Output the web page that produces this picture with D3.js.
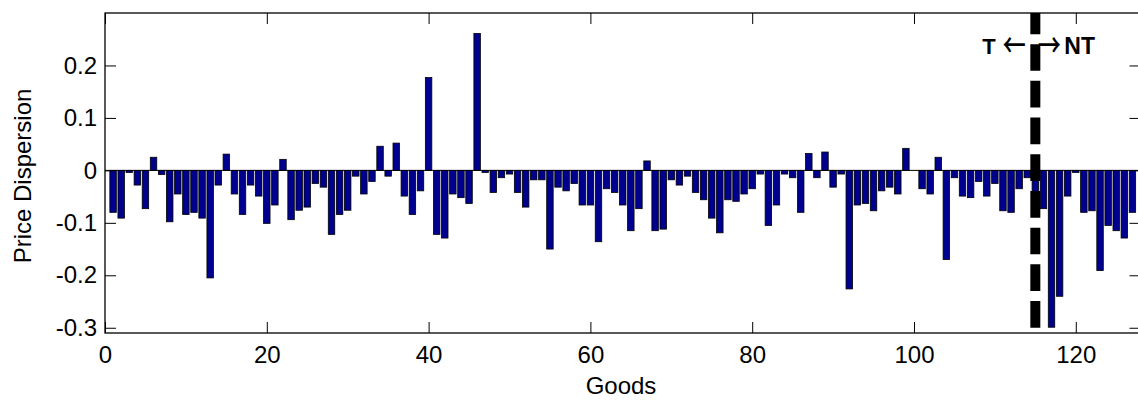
<!DOCTYPE html>
<html>
<head>
<meta charset="utf-8">
<script src="https://cdn.jsdelivr.net/npm/d3@7"></script>
<style>
  html, body { margin: 0; padding: 0; background: #fff; }
</style>
</head>
<body>
<svg id="chart" width="1138" height="400" font-family='"Liberation Sans", Arial, Helvetica, sans-serif'></svg>
<script>
// ---- data ----
const values = [
  -0.080, -0.091, -0.004, -0.028, -0.073,  0.025, -0.008, -0.098, -0.045, -0.084,
  -0.080, -0.091, -0.205, -0.028,  0.031, -0.045, -0.084, -0.028, -0.049, -0.101,
  -0.066,  0.021, -0.094, -0.076, -0.070, -0.025, -0.032, -0.122, -0.084, -0.076,
  -0.011, -0.045, -0.021,  0.046, -0.011,  0.052, -0.049, -0.084, -0.039,  0.177,
  -0.122, -0.129, -0.045, -0.052, -0.063,  0.261, -0.004, -0.042, -0.014, -0.007,
  -0.042, -0.070, -0.018, -0.018, -0.150, -0.032, -0.039, -0.025, -0.066, -0.066,
  -0.136, -0.035, -0.042, -0.066, -0.115, -0.073,  0.018, -0.115, -0.112, -0.018,
  -0.028, -0.011, -0.042, -0.056, -0.091, -0.119, -0.056, -0.059, -0.045, -0.035,
  -0.007, -0.105, -0.066, -0.007, -0.014, -0.080,  0.032, -0.014,  0.035, -0.032,
  -0.007, -0.226, -0.066, -0.063, -0.077, -0.039, -0.032, -0.045,  0.042,  0.000,
  -0.035, -0.045,  0.025, -0.170, -0.014, -0.049, -0.052, -0.021, -0.049, -0.025,
  -0.077, -0.080, -0.035, -0.014, -0.040, -0.073, -0.299, -0.240, -0.049, -0.004,
  -0.080, -0.077, -0.191, -0.105, -0.115, -0.129, -0.080
];
const goods = values.map((v, i) => i + 1);
const xTicks = [0, 20, 40, 60, 80, 100, 120];
const yTicks = [-0.3, -0.2, -0.1, 0, 0.1, 0.2];
const xDomain = [0, 128];
const yDomain = [-0.31, 0.30];
const splitGood = 115;
const xTitle = "Goods";
const yTitle = "Price Dispersion";

// ---- layout ----
const L = 105, R = 1140.5, T = 13, B = 333;
const svg = d3.select("#chart");
svg.append("rect").attr("width", 1138).attr("height", 400).attr("fill", "#fff");

const x = d3.scaleLinear().domain(xDomain).range([L, R]);
const y = d3.scaleLinear().domain(yDomain).range([B, T]);

const bw = x(0.8) - x(0);
svg.append("g").selectAll("rect").data(values).join("rect")
  .attr("x", (d, i) => x(goods[i] - 0.4))
  .attr("width", bw)
  .attr("y", d => y(Math.max(d, 0)))
  .attr("height", d => Math.abs(y(d) - y(0)))
  .attr("fill", "#00008F")
  .attr("stroke", "#000")
  .attr("stroke-width", 0.8);

// baseline at zero
svg.append("line")
  .attr("x1", L).attr("x2", R).attr("y1", y(0)).attr("y2", y(0))
  .attr("stroke", "#000").attr("stroke-width", 1);

// dashed split line
svg.append("line")
  .attr("x1", x(splitGood)).attr("x2", x(splitGood))
  .attr("y1", y(-0.3)).attr("y2", y(0.3))
  .attr("stroke", "#000").attr("stroke-width", 10)
  .attr("stroke-dasharray", "26.7 10");

const fs = 24;
const mainFont = '"Liberation Sans", Arial, sans-serif';
// axes
const gx = svg.append("g").attr("transform", `translate(0,${B})`)
  .call(d3.axisBottom(x).tickValues(xTicks).tickSizeInner(-11).tickSizeOuter(0).tickPadding(13).tickFormat(d3.format("d")));
const gxt = svg.append("g").attr("transform", `translate(0,${T})`)
  .call(d3.axisTop(x).tickValues(xTicks).tickSizeInner(-11).tickSizeOuter(0).tickFormat(""));
const gy = svg.append("g").attr("transform", `translate(${L},0)`)
  .call(d3.axisLeft(y).tickValues(yTicks).tickSizeInner(-11).tickSizeOuter(0).tickPadding(8)
    .tickFormat(d => d === 0 ? "0" : d3.format(".1f")(d).replace("\u2212", "-")));
const gyr = svg.append("g").attr("transform", `translate(${R},0)`)
  .call(d3.axisRight(y).tickValues(yTicks).tickSizeInner(-11).tickSizeOuter(0).tickFormat(""));

[gx, gxt, gy, gyr].forEach(g => {
  g.select(".domain").remove();
  g.selectAll(".tick line").attr("stroke", "#000").attr("stroke-width", 1);
  g.attr("font-family", mainFont).attr("font-size", fs);
  g.selectAll("text").attr("fill", "#000");
});

// box
svg.append("rect").attr("x", L).attr("y", T).attr("width", R - L).attr("height", B - T)
  .attr("fill", "none").attr("stroke", "#000").attr("stroke-width", 1.3);

// titles
svg.append("text").attr("x", 621).attr("y", 394)
  .attr("text-anchor", "middle").attr("font-size", fs).text(xTitle);
svg.append("text").attr("transform", `translate(31,${(T + B) / 2 + 3}) rotate(-90)`)
  .attr("text-anchor", "middle").attr("font-size", fs).text(yTitle);

// split annotation: T <-  -> NT
const ann = svg.append("g").attr("font-weight", "bold").attr("fill", "#000");
const xs = x(splitGood);
const arrowFont = '"Noto Sans CJK SC", "Noto Sans CJK JP", "DejaVu Sans", sans-serif';
ann.append("text").attr("x", xs - 53).attr("y", 53.5).attr("font-size", 22).text("T");
ann.append("text").attr("transform", `translate(${xs - 21},57) scale(0.72,1)`).attr("text-anchor", "middle")
  .style("font-family", arrowFont).style("font-weight", "500").attr("font-size", 32).text("\u2190");
ann.append("text").attr("transform", `translate(${xs + 14},57) scale(0.72,1)`).attr("text-anchor", "middle")
  .style("font-family", arrowFont).style("font-weight", "500").attr("font-size", 32).text("\u2192");
ann.append("text").attr("x", xs + 29).attr("y", 53.5).attr("font-size", 23).text("NT");
</script>
</body>
</html>
